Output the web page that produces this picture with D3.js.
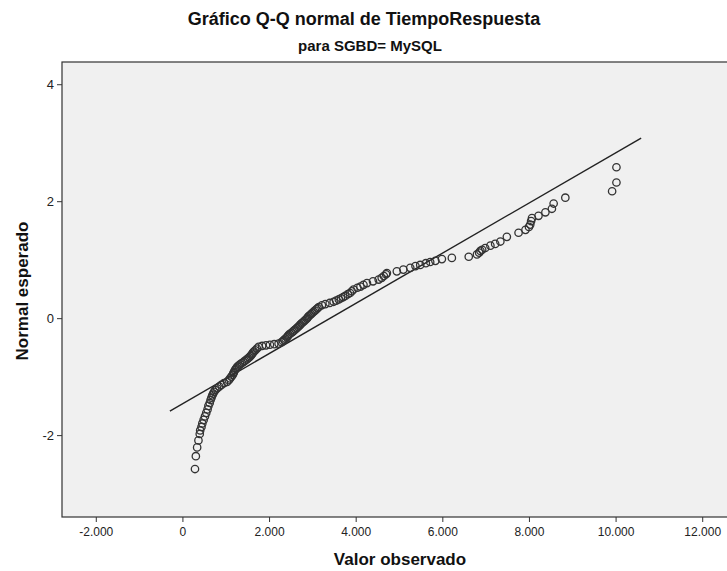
<!DOCTYPE html>
<html><head><meta charset="utf-8">
<script src="https://cdn.jsdelivr.net/npm/d3@7/dist/d3.min.js"></script>
<style>body{margin:0;background:#fff}svg{display:block}text{font-family:"Liberation Sans",Arial,sans-serif}</style>
</head><body>
<svg id="c" width="727" height="571"></svg>
<script>
const title = "Gráfico Q-Q normal de TiempoRespuesta";
const subtitle = "para SGBD= MySQL";
const xTitle = "Valor observado";
const yTitle = "Normal esperado";
const xTicks = [-2, 0, 2, 4, 6, 8, 10, 12];
const xTickLabels = ["-2.000", "0", "2.000", "4.000", "6.000", "8.000", "10.000", "12.000"];
const yTicks = [-2, 0, 2, 4];
const yTickLabels = ["-2", "0", "2", "4"];
const xDomain = [-2.78, 12.78];
const yDomain = [-3.40, 4.38];
const lineX = [-0.29, 10.59];
const lineY = [-1.59, 3.08];
const observed = [
 0.29,0.31,0.34,0.37,0.40,
 0.41,0.44,0.46,0.49,0.52,0.55,0.58,0.60,0.63,0.65,
 0.67,0.69,0.71,0.73,0.76,0.80,0.85,0.90,0.96,1.03,
 1.07,1.10,1.13,1.16,1.18,1.19,1.21,1.23,1.25,1.27,
 1.30,1.33,1.37,1.41,1.44,1.48,1.51,1.54,1.57,1.59,1.61,1.63,1.65,1.68,1.72,1.76,
 1.84,1.93,2.02,2.12,2.22,
 2.29,2.32,2.35,2.38,2.41,2.43,2.45,2.48,2.52,2.55,2.58,2.61,2.64,2.67,2.70,2.72,
 2.75,2.78,2.81,2.84,2.87,2.89,2.91,2.94,2.97,3.00,3.03,3.06,3.09,3.12,3.15,
 3.22,3.30,3.40,3.49,3.55,3.61,3.66,3.71,3.76,3.82,3.87,3.91,3.95,
 4.04,4.11,4.18,4.26,4.40,4.53,
 4.60,4.65,4.70,4.72,4.95,5.10,5.26,5.38,5.49,5.62,5.72,5.84,5.99,6.22,
 6.61,6.80,6.85,6.88,6.92,6.99,7.11,7.22,7.34,7.49,7.76,7.92,8.00,8.03,8.05,8.07,8.22,8.38,8.53,8.57,8.84,
 9.92,10.02,10.02
];
const expected = [
 -2.58,-2.36,-2.21,-2.09,-1.98,
 -1.92,-1.86,-1.80,-1.74,-1.68,-1.62,-1.56,-1.50,-1.45,-1.40,
 -1.36,-1.32,-1.29,-1.26,-1.23,-1.20,-1.17,-1.14,-1.11,-1.09,
 -1.06,-1.03,-1.00,-0.97,-0.94,-0.92,-0.89,-0.87,-0.85,-0.83,
 -0.81,-0.79,-0.77,-0.75,-0.73,-0.71,-0.69,-0.67,-0.65,-0.63,-0.61,-0.59,-0.57,-0.55,-0.52,-0.49,
 -0.475,-0.465,-0.455,-0.445,-0.435,
 -0.41,-0.39,-0.37,-0.35,-0.33,-0.31,-0.29,-0.27,-0.25,-0.23,-0.21,-0.19,-0.17,-0.15,-0.13,-0.11,
 -0.09,-0.07,-0.05,-0.03,-0.01,0.01,0.03,0.05,0.07,0.09,0.11,0.13,0.15,0.17,0.19,
 0.22,0.24,0.26,0.28,0.30,0.32,0.34,0.36,0.38,0.41,0.43,0.46,0.49,
 0.52,0.54,0.57,0.60,0.63,0.66,
 0.69,0.72,0.75,0.77,0.80,0.83,0.86,0.89,0.91,0.94,0.96,0.98,1.01,1.03,
 1.05,1.09,1.12,1.15,1.17,1.20,1.24,1.27,1.31,1.39,1.46,1.51,1.56,1.60,1.66,1.71,1.75,1.81,1.87,1.96,2.06,
 2.17,2.32,2.58
];

const svg = d3.select("#c");
const L = 62, R = 736, T = 62, B = 517;
const x = d3.scaleLinear().domain(xDomain).range([L, R]);
const y = d3.scaleLinear().domain(yDomain).range([B, T]);

svg.append("rect").attr("x", L).attr("y", T).attr("width", R - L).attr("height", B - T)
  .attr("fill", "#f0f0f0").attr("stroke", "#333").attr("stroke-width", 1.2);

const xAxis = d3.axisBottom(x).tickValues(xTicks).tickSize(5).tickSizeOuter(0)
  .tickFormat((d, i) => xTickLabels[i]);
const gx = svg.append("g").attr("transform", `translate(0,${B})`).call(xAxis);
gx.select(".domain").remove();
gx.selectAll("line").attr("stroke", "#333");
gx.selectAll("text").attr("font-size", 12).attr("fill", "#222").attr("dy", "0.95em");

const yAxis = d3.axisLeft(y).tickValues(yTicks).tickSize(5).tickSizeOuter(0)
  .tickFormat((d, i) => yTickLabels[i]);
const gy = svg.append("g").attr("transform", `translate(${L},0)`).call(yAxis);
gy.select(".domain").remove();
gy.selectAll("line").attr("stroke", "#333");
gy.selectAll("text").attr("font-size", 13).attr("fill", "#222");

svg.append("line").attr("x1", x(lineX[0])).attr("y1", y(lineY[0]))
  .attr("x2", x(lineX[1])).attr("y2", y(lineY[1]))
  .attr("stroke", "#222").attr("stroke-width", 1.4);

const pts = observed.map((v, i) => [v, expected[i]]);
svg.append("g").selectAll("circle").data(pts).join("circle")
  .attr("cx", d => x(d[0])).attr("cy", d => y(d[1])).attr("r", 3.7)
  .attr("fill", "none").attr("stroke", "#333").attr("stroke-width", 1.3);

svg.append("text").attr("x", 364).attr("y", 25).attr("text-anchor", "middle")
  .attr("font-size", 18).attr("font-weight", "bold").attr("fill", "#111").text(title);
svg.append("text").attr("x", 370).attr("y", 51).attr("text-anchor", "middle")
  .attr("font-size", 15).attr("font-weight", "bold").attr("fill", "#111").text(subtitle);
svg.append("text").attr("x", 400).attr("y", 565).attr("text-anchor", "middle")
  .attr("font-size", 17).attr("font-weight", "bold").attr("fill", "#111").text(xTitle);
svg.append("text").attr("transform", "translate(28,291) rotate(-90)").attr("text-anchor", "middle")
  .attr("font-size", 17).attr("font-weight", "bold").attr("fill", "#111").text(yTitle);
</script>
</body></html>
